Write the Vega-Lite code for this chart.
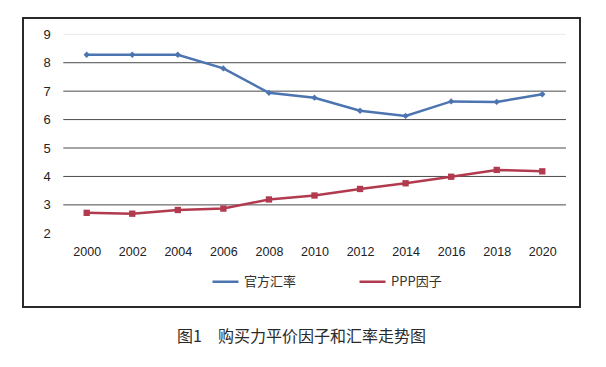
{
  "$schema": "https://vega.github.io/schema/vega-lite/v6.json",
  "width": 557,
  "height": 289,
  "padding": {"left": 23, "top": 18, "right": 5, "bottom": 5},
  "autosize": {"type": "pad"},
  "background": "white",
  "config": {
    "view": {"stroke": "#2a2a2a", "strokeWidth": 2},
    "font": "Liberation Sans"
  },
  "title": {
    "text": "图1　购买力平价因子和汇率走势图",
    "orient": "bottom",
    "anchor": "middle",
    "frame": "group",
    "font": "Noto Sans CJK SC",
    "fontSize": 16,
    "fontWeight": "normal",
    "color": "#2a2a2a",
    "offset": 22
  },
  "datasets": {
    "series": [
      {"year": 2000, "series": "官方汇率", "value": 8.28},
      {"year": 2002, "series": "官方汇率", "value": 8.28},
      {"year": 2004, "series": "官方汇率", "value": 8.28},
      {"year": 2006, "series": "官方汇率", "value": 7.80},
      {"year": 2008, "series": "官方汇率", "value": 6.94},
      {"year": 2010, "series": "官方汇率", "value": 6.77},
      {"year": 2012, "series": "官方汇率", "value": 6.31},
      {"year": 2014, "series": "官方汇率", "value": 6.13},
      {"year": 2016, "series": "官方汇率", "value": 6.64},
      {"year": 2018, "series": "官方汇率", "value": 6.62},
      {"year": 2020, "series": "官方汇率", "value": 6.89},
      {"year": 2000, "series": "PPP因子", "value": 2.72},
      {"year": 2002, "series": "PPP因子", "value": 2.69},
      {"year": 2004, "series": "PPP因子", "value": 2.82},
      {"year": 2006, "series": "PPP因子", "value": 2.87},
      {"year": 2008, "series": "PPP因子", "value": 3.19},
      {"year": 2010, "series": "PPP因子", "value": 3.33},
      {"year": 2012, "series": "PPP因子", "value": 3.56},
      {"year": 2014, "series": "PPP因子", "value": 3.76},
      {"year": 2016, "series": "PPP因子", "value": 3.99},
      {"year": 2018, "series": "PPP因子", "value": 4.23},
      {"year": 2020, "series": "PPP因子", "value": 4.18}
    ],
    "grid": [{"g": 3}, {"g": 4}, {"g": 5}, {"g": 6}, {"g": 7}, {"g": 8}, {"g": 9}]
  },
  "layer": [
    {
      "data": {"name": "grid"},
      "mark": {"type": "rule", "strokeWidth": 1},
      "encoding": {
        "y": {
          "field": "g",
          "type": "quantitative",
          "scale": {"domain": [-0.592, 9.573], "nice": false, "zero": false},
          "axis": {
            "orient": "left",
            "offset": -40.3,
            "values": [2, 3, 4, 5, 6, 7, 8, 9],
            "domain": false,
            "ticks": false,
            "grid": false,
            "labelPadding": 13,
            "labelFontSize": 13,
            "labelColor": "#222222",
            "title": null
          }
        },
        "x": {
          "datum": 1998.973,
          "type": "quantitative",
          "scale": {"domain": [1997.204, 2021.656], "nice": false, "zero": false},
          "axis": {
            "orient": "bottom",
            "offset": -73.7,
            "values": [2000, 2002, 2004, 2006, 2008, 2010, 2012, 2014, 2016, 2018, 2020],
            "format": "d",
            "domain": false,
            "ticks": false,
            "grid": false,
            "labelPadding": 12,
            "labelFontSize": 12.5,
            "labelColor": "#222222",
            "title": null
          }
        },
        "x2": {"datum": 2021.04},
        "color": {
          "condition": {"test": "datum.g == 9", "value": "#e8e8e8"},
          "value": "#4a4a4a"
        }
      }
    },
    {
      "mark": {"type": "rule", "strokeWidth": 1.5, "color": "#222222"},
      "encoding": {
        "x": {"datum": 1998.973, "type": "quantitative"},
        "y": {"datum": 2, "type": "quantitative"},
        "y2": {"datum": 9}
      }
    },
    {
      "mark": {"type": "rule", "strokeWidth": 1.5, "color": "#222222"},
      "encoding": {
        "x": {"datum": 1998.973, "type": "quantitative"},
        "x2": {"datum": 2021.04},
        "y": {"datum": 2, "type": "quantitative"}
      }
    },
    {
      "mark": {"type": "rule", "strokeWidth": 3, "color": "#2a2a2a"},
      "encoding": {
        "x": {"datum": 1997.204, "type": "quantitative"},
        "x2": {"datum": 2021.656},
        "y": {"datum": -0.592, "type": "quantitative"}
      }
    },
    {
      "data": {"name": "series"},
      "mark": {"type": "line", "strokeWidth": 2.5},
      "encoding": {
        "x": {"field": "year", "type": "quantitative"},
        "y": {"field": "value", "type": "quantitative"},
        "color": {
          "field": "series",
          "type": "nominal",
          "sort": ["官方汇率", "PPP因子"],
          "scale": {"domain": ["官方汇率", "PPP因子"], "range": ["#4C74B1", "#B23A4E"]},
          "legend": {
            "orient": "none",
            "legendX": 188,
            "legendY": 249,
            "direction": "horizontal",
            "title": null,
            "symbolType": "stroke",
            "symbolStrokeWidth": 2.5,
            "symbolSize": 676,
            "labelFont": "Noto Sans CJK SC",
            "labelFontSize": 13,
            "labelColor": "#333333",
            "labelOffset": 4,
            "columnPadding": 57
          }
        }
      }
    },
    {
      "data": {"name": "series"},
      "transform": [{"filter": "datum.series == '官方汇率'"}],
      "mark": {"type": "point", "filled": true, "opacity": 1, "shape": "diamond", "color": "#4C74B1", "size": 40},
      "encoding": {
        "x": {"field": "year", "type": "quantitative"},
        "y": {"field": "value", "type": "quantitative"}
      }
    },
    {
      "data": {"name": "series"},
      "transform": [{"filter": "datum.series == 'PPP因子'"}],
      "mark": {"type": "point", "filled": true, "opacity": 1, "shape": "square", "color": "#B23A4E", "size": 40},
      "encoding": {
        "x": {"field": "year", "type": "quantitative"},
        "y": {"field": "value", "type": "quantitative"}
      }
    }
  ]
}
